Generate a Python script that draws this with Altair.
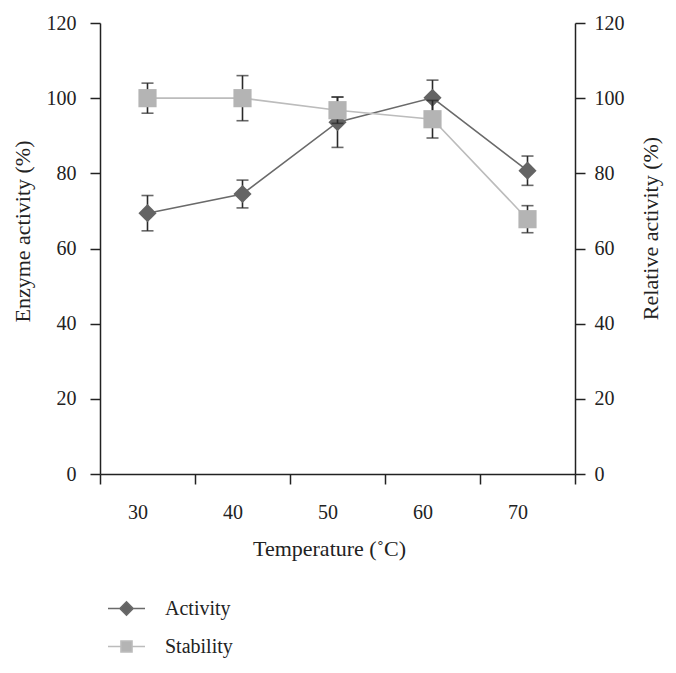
import altair as alt
import pandas as pd

temps = [30, 40, 50, 60, 70]
activity = [69.4, 74.5, 93.6, 100.1, 80.7]
activity_err = [4.7, 3.7, 6.7, 4.7, 3.9]
stability = [100.0, 100.0, 96.8, 94.4, 67.8]
stability_err = [4.0, 6.0, 3.5, 5.0, 3.6]
series_names = ["Activity", "Stability"]
series_colors = ["#646464", "#b4b4b4"]
line_colors = ["#6a6a6a", "#bcbcbc"]
err_color = "#2a2a2a"

rows = []
for name, vals, errs in [("Activity", activity, activity_err), ("Stability", stability, stability_err)]:
    for t, v, e in zip(temps, vals, errs):
        rows.append({"Temp": t, "Series": name, "Value": v, "lo": v - e, "hi": v + e})
df = pd.DataFrame(rows)

FONT = "Liberation Serif"
xscale = alt.Scale(type="band", paddingInner=0, paddingOuter=0, domain=temps)
yscale = alt.Scale(domain=[0, 120])

x_axis = alt.Axis(
    title="Temperature (˚C)", tickBand="extent", labelAngle=0, tickSize=10,
    labelPadding=28, labelBaseline="middle", labelOffset=-10, titleX=229, titleY=74,
    titleBaseline="middle", titleAlign="center", grid=False,
)
x_enc = alt.X("Temp:O", scale=xscale, axis=x_axis)

left_axis = alt.Axis(
    title="Enzyme activity (%)", values=[0, 20, 40, 60, 80, 100, 120], tickSize=10,
    labelPadding=14, grid=False, titleAngle=270, titleX=-78, titleY=208,
    titleBaseline="middle", titleAlign="center",
)
right_axis = alt.Axis(
    title="Relative activity (%)", orient="right", values=[0, 20, 40, 60, 80, 100, 120],
    tickSize=10, labelPadding=9, grid=False, titleAngle=270, titleX=75, titleY=205,
    titleBaseline="middle", titleAlign="center",
)


def series_layers(name, color, lcolor, shape, axis):
    d = df[df["Series"] == name]
    base = alt.Chart(d)
    line = base.mark_line(color=lcolor, strokeWidth=1.6).encode(
        x=x_enc, y=alt.Y("Value:Q", scale=yscale, axis=axis),
    )
    err = base.mark_rule(color=err_color, strokeWidth=1.6).encode(
        x=x_enc, y=alt.Y("lo:Q", scale=yscale, axis=axis), y2="hi:Q"
    )
    caps_hi = base.mark_tick(color=err_color, thickness=1.6, size=12, orient="horizontal").encode(
        x=x_enc, y=alt.Y("hi:Q", scale=yscale, axis=axis)
    )
    caps_lo = base.mark_tick(color=err_color, thickness=1.6, size=12, orient="horizontal").encode(
        x=x_enc, y=alt.Y("lo:Q", scale=yscale, axis=axis)
    )
    pts = base.mark_point(filled=True, shape=shape, size=330, color=color, opacity=1).encode(
        x=x_enc, y=alt.Y("Value:Q", scale=yscale, axis=axis)
    )
    return [line, err, caps_hi, caps_lo, pts]


legend_shapes = [
    "M-1,0L-0.36,0M0.36,0L1,0M-0.36,0L0,-0.36L0.36,0L0,0.36Z",
    "M-1,0L-0.3,0M0.3,0L1,0M-0.3,-0.3L0.3,-0.3L0.3,0.3L-0.3,0.3Z",
]
legend_def = dict(
    title=None, orient="none", legendX=7, legendY=566, labelFont=FONT, labelFontSize=20,
    labelColor="#222", symbolSize=1369, symbolStrokeWidth=1.5, labelOffset=19, rowPadding=8,
    symbolOpacity=1, padding=0,
)
legend_layer = alt.Chart(df).mark_point(filled=True, opacity=0).encode(
    x=x_enc,
    y=alt.Y("Value:Q", scale=yscale, axis=left_axis),
    color=alt.Color("Series:N", scale=alt.Scale(domain=series_names, range=series_colors),
                    legend=alt.Legend(**legend_def)),
    stroke=alt.Stroke("Series:N", scale=alt.Scale(domain=series_names, range=line_colors),
                      legend=alt.Legend(**legend_def)),
    shape=alt.Shape("Series:N", scale=alt.Scale(domain=series_names, range=legend_shapes),
                    legend=alt.Legend(**legend_def)),
)

left = alt.layer(*series_layers("Activity", series_colors[0], line_colors[0], "diamond", left_axis), legend_layer)
right = alt.layer(*series_layers("Stability", series_colors[1], line_colors[1], "square", right_axis))

chart = alt.layer(left, right).resolve_scale(y="independent").properties(
    width=475, height=451,
    autosize=alt.AutoSizeParams(type="none"),
    padding={"left": 92, "top": 15, "right": 93, "bottom": 210},
    background="white",
).configure_view(stroke=None).configure_axis(
    labelFont=FONT, titleFont=FONT, labelFontSize=20, titleFontSize=22,
    labelColor="#222", titleColor="#222", titleFontWeight="normal",
    domainColor="#222", tickColor="#222", domainWidth=1.5, tickWidth=1.5,
)

chart.save("out.html", embed_options={"renderer": "svg", "actions": False})
